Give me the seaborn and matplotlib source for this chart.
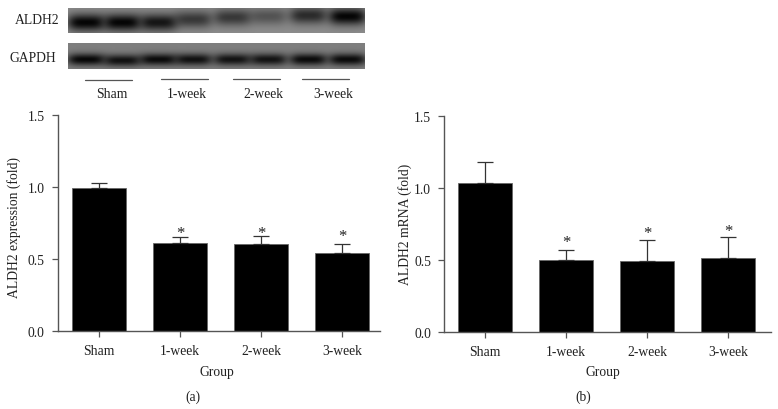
import numpy as np
import pandas as pd
import matplotlib
matplotlib.use("Agg")
import matplotlib.pyplot as plt
import seaborn as sns

groups = ["Sham", "1-week", "2-week", "3-week"]
means_a = [0.99, 0.608, 0.60, 0.538]
errs_a = [0.034, 0.043, 0.057, 0.066]
stars_a = [None, 0.70, 0.70, 0.675]
means_b = [1.035, 0.495, 0.49, 0.515]
errs_b = [0.145, 0.072, 0.148, 0.145]
stars_b = [None, 0.644, 0.706, 0.72]

# blot bands, one per lane
lanes_x = [86, 122, 158, 193, 232, 268, 308, 347]
aldh2_dark = [1.0, 1.0, 0.88, 0.62, 0.62, 0.42, 0.72, 1.0]
aldh2_y = [23, 23, 23, 20, 18, 17, 16, 17]
gapdh_dark = [0.98, 0.9, 0.95, 0.9, 0.88, 0.88, 0.95, 0.95]
gapdh_y = [60, 61, 60, 60, 60, 60, 60, 60]

sns.set_theme(style="white")
plt.rcParams["font.family"] = ["Liberation Serif", "DejaVu Serif"]
GREY = "#555555"
TXT = "#222222"
FS = 9.8

fig = plt.figure(figsize=(7.78, 4.10), dpi=100)


def px_axes(left, right, top, bottom):
    return fig.add_axes([left / 778, 1 - bottom / 410, (right - left) / 778, (bottom - top) / 410])


# overlay in pixel coordinates for the blot part
top = fig.add_axes([0, 0, 1, 1])
top.axis("off")


def blot(y0, y1, base, centers, dark, sy):
    xx, yy = np.meshgrid(np.arange(68, 365), np.arange(y0, y1))
    img = np.full(xx.shape, base, dtype=float)
    for cx, cy, d in zip(lanes_x, centers, dark):
        band = np.exp(-((xx - cx) / 19.0) ** 4 - ((yy - cy) / sy) ** 2)
        img = img - (img - 0.02) * d * band
    top.imshow(img, cmap="gray", vmin=0, vmax=1, extent=(68, 365, y1, y0), aspect="auto")


blot(9, 34, 0.55, aldh2_y, aldh2_dark, 8.5)
blot(44, 70, 0.50, gapdh_y, gapdh_dark, 6.0)
top.set_xlim(0, 778)
top.set_ylim(410, 0)

top.text(37, 20, "ALDH2", ha="center", va="center", fontsize=FS, color=TXT)
top.text(33, 58, "GAPDH", ha="center", va="center", fontsize=FS, color=TXT)
for x0, x1, yl, lab, xt in zip([85, 161, 233, 302], [132, 208, 280, 349], [81, 80, 80, 80],
                               groups, [112, 187, 263, 333]):
    top.plot([x0, x1], [yl, yl], color="#555555", lw=0.9)
    top.text(xt, 94, lab, ha="center", va="center", fontsize=FS, color=TXT)
top.text(193, 397, "(a)", ha="center", va="center", fontsize=FS, color=TXT)
top.text(583, 397, "(b)", ha="center", va="center", fontsize=FS, color=TXT)


def panel(ax, means, errs, star_y, ylabel, xlim, ylab_xy, xlab_x):
    df = pd.DataFrame({"group": groups, "value": means})
    sns.barplot(data=df, x="group", y="value", color="black", saturation=1, width=0.67,
                edgecolor="#666666", linewidth=0.6, ax=ax)
    ax.errorbar(range(4), means, yerr=[[0] * 4, errs], fmt="none", ecolor="#333333",
                elinewidth=0.9, capsize=5.8, capthick=0.9)
    for i, s in enumerate(star_y):
        if s is not None:
            ax.annotate("*", (i, s), xytext=(0, -2), textcoords="offset points",
                        ha="center", va="center", fontsize=12, color=TXT)
    ax.set_xlim(*xlim)
    ax.set_ylim(0, 1.5)
    ax.set_yticks([0, 0.5, 1.0, 1.5])
    ax.set_yticklabels(["0.0", "0.5", "1.0", "1.5"])
    ax.set_xlabel("Group", fontsize=FS, color=TXT)
    ax.set_ylabel(ylabel, fontsize=FS, color=TXT)
    ax.yaxis.set_label_coords(*ylab_xy)
    ax.xaxis.set_label_coords(xlab_x, -0.156)
    ax.patch.set_alpha(0)
    sns.despine(ax=ax)
    for sp in ["left", "bottom"]:
        ax.spines[sp].set_color(GREY)
        ax.spines[sp].set_linewidth(1.0)
    ax.tick_params(axis="both", bottom=True, left=True, length=4.5, width=0.9, color=GREY,
                   labelsize=FS, labelcolor=TXT, pad=5)


ax_a = px_axes(58, 380, 115.7, 332)
panel(ax_a, means_a, errs_a, stars_a, "ALDH2 expression (fold)", (-0.506, 3.47), (-0.115, 0.481), 0.494)
ax_b = px_axes(444.3, 771, 116.7, 332.7)
panel(ax_b, means_b, errs_b, stars_b, "ALDH2 mRNA (fold)", (-0.506, 3.53), (-0.099, 0.5), 0.485)

fig.savefig("out.png", dpi=100, facecolor="white")
